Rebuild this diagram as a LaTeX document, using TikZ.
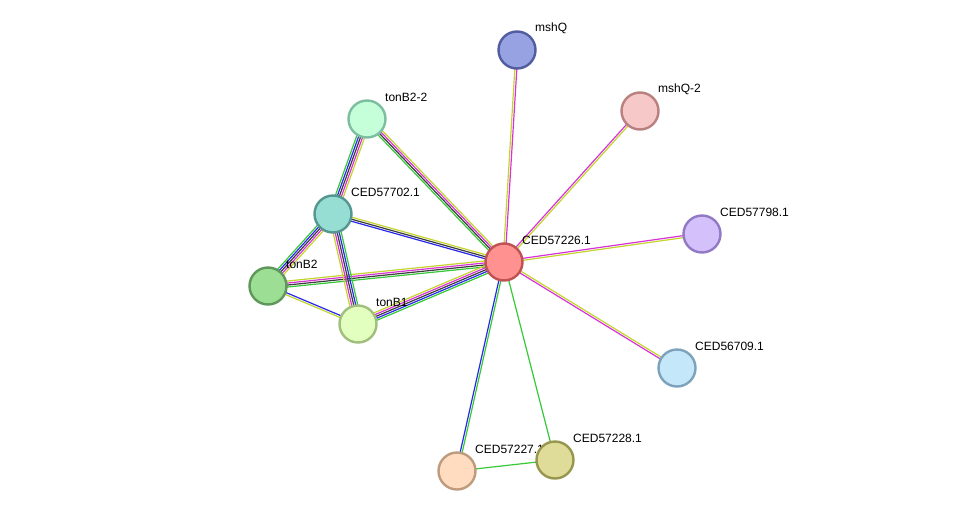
\documentclass[tikz,border=0pt]{standalone}
\usepackage{fontspec}
\setmainfont{Liberation Sans}
\usetikzlibrary{calc,backgrounds}
\definecolor{eg}{RGB}{55,200,55}
\definecolor{eb}{RGB}{40,40,235}
\definecolor{ek}{RGB}{60,60,60}
\definecolor{em}{RGB}{215,50,215}
\definecolor{ey}{RGB}{195,212,45}
\tikzset{
  prot/.style={circle, minimum size=37pt, inner sep=0pt, line width=2.4pt},
  lab/.style={anchor=west, font=\fontsize{12}{14}\selectfont, inner sep=0pt},
}
\newcommand\sedge[4]{%
  \foreach \cc [count=\ii] in {#4}{%
    \pgfmathsetmacro\eoff{(\ii-(#3+1)/2)*2.0}%
    \draw[color=\cc, line width=1.2pt] ($(#1.center)!\eoff pt!90:(#2.center)$) -- ($(#2.center)!\eoff pt!-90:(#1.center)$);
  }%
}
\begin{document}
\begin{tikzpicture}[x=1pt,y=-1pt]
\useasboundingbox (0,0) rectangle (975,517);
% nodes
\node[prot, fill={rgb,255:red,150;green,162;blue,225}, draw={rgb,255:red,82;green,92;blue,160}] (mshQ) at (517,50) {};
\node[lab] at ($(mshQ)+(18,-22)$) {mshQ};
\node[prot, fill={rgb,255:red,246;green,200;blue,200}, draw={rgb,255:red,185;green,128;blue,128}] (mshQ2) at (640,111) {};
\node[lab] at ($(mshQ2)+(18,-22)$) {mshQ-2};
\node[prot, fill={rgb,255:red,212;green,192;blue,250}, draw={rgb,255:red,145;green,122;blue,195}] (c798) at (702,234) {};
\node[lab] at ($(c798)+(18,-22)$) {CED57798.1};
\node[prot, fill={rgb,255:red,196;green,232;blue,250}, draw={rgb,255:red,125;green,162;blue,188}] (c709) at (677,368) {};
\node[lab] at ($(c709)+(18,-22)$) {CED56709.1};
\node[prot, fill={rgb,255:red,255;green,220;blue,192}, draw={rgb,255:red,190;green,155;blue,125}] (c227) at (457,471) {};
\node[lab] at ($(c227)+(18,-22)$) {CED57227.1};
\node[prot, fill={rgb,255:red,222;green,220;blue,152}, draw={rgb,255:red,150;green,150;blue,78}] (c228) at (555,460) {};
\node[lab] at ($(c228)+(18,-22)$) {CED57228.1};
\node[prot, fill={rgb,255:red,196;green,255;blue,218}, draw={rgb,255:red,125;green,190;blue,160}] (tonBBB) at (367,119) {};
\node[lab] at ($(tonBBB)+(18,-22)$) {tonB2-2};
\node[prot, fill={rgb,255:red,226;green,255;blue,192}, draw={rgb,255:red,160;green,190;blue,125}] (tonBa) at (358,324) {};
\node[lab] at ($(tonBa)+(18,-22)$) {tonB1};
\node[prot, fill={rgb,255:red,156;green,222;blue,148}, draw={rgb,255:red,95;green,150;blue,90}] (tonBb) at (268,286) {};
\node[lab] at ($(tonBb)+(18,-22)$) {tonB2};
\node[prot, fill={rgb,255:red,150;green,222;blue,212}, draw={rgb,255:red,85;green,150;blue,145}] (c702) at (333,214) {};
\node[lab] at ($(c702)+(18,-22)$) {CED57702.1};
\node[prot, fill={rgb,255:red,255;green,145;blue,145}, draw={rgb,255:red,190;green,82;blue,82}] (c226) at (504,262) {};
\node[lab] at ($(c226)+(18,-22)$) {CED57226.1};
% edges
\begin{pgfonlayer}{background}
\sedge{c226}{mshQ}{2}{em,ey}
\sedge{c226}{mshQ2}{2}{ey,em}
\sedge{c226}{c798}{2}{ey,em}
\sedge{c226}{c709}{2}{em,ey}
\sedge{c226}{c228}{1}{eg}
\sedge{c226}{c227}{2}{eb,eg}
\sedge{c227}{c228}{1}{eg}
\sedge{c226}{tonBBB}{4}{ey,em,ek,eg}
\sedge{c226}{c702}{3}{ey,ek,eb}
\sedge{c226}{tonBb}{4}{ey,em,ek,eg}
\sedge{c226}{tonBa}{5}{ey,em,ek,eb,eg}
\sedge{tonBBB}{c702}{5}{eg,eb,ek,em,ey}
\sedge{c702}{tonBb}{5}{eg,eb,ek,em,ey}
\sedge{c702}{tonBa}{5}{ey,em,ek,eb,eg}
\sedge{tonBb}{tonBa}{2}{ey,eb}
\end{pgfonlayer}
\end{tikzpicture}
\end{document}
